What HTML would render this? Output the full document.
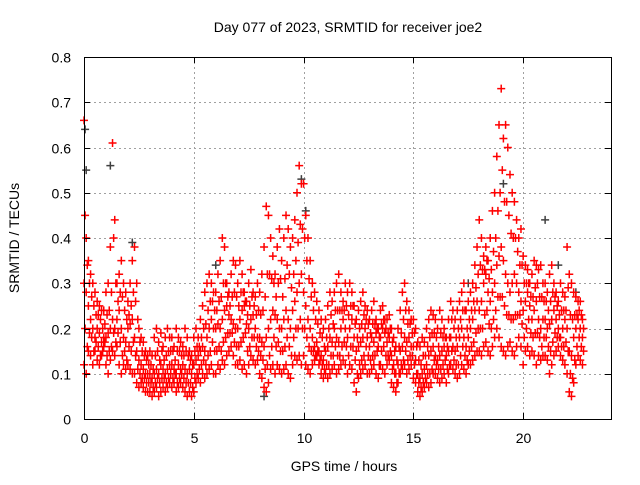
<!DOCTYPE html>
<html><head><meta charset="utf-8"><style>
body{margin:0;background:#fff}
svg text{font-family:"Liberation Sans",sans-serif;font-size:14px;fill:#000}
</style></head><body>
<svg id="chart" width="640" height="480" viewBox="0 0 640 480">
<rect width="640" height="480" fill="#fff"/>
<g id="grid"></g>
<g id="pts"></g>
<rect x="84.5" y="57.5" width="527" height="362" fill="none" stroke="#000" stroke-width="1"/>
<g id="ticks"></g>
<text x="348" y="32" text-anchor="middle">Day 077 of 2023, SRMTID for receiver joe2</text>
<text x="344" y="471" text-anchor="middle">GPS time / hours</text>
<text transform="translate(19,238) rotate(-90)" text-anchor="middle">SRMTID / TECUs</text>
</svg>
<script>
const xTicks=[0,5,10,15,20];
const yTicks=[0,0.1,0.2,0.3,0.4,0.5,0.6,0.7,0.8];
const yTickLabels=["0","0.1","0.2","0.3","0.4","0.5","0.6","0.7","0.8"];
const tStart=0, tStep=0.1, tHalf=0.05;
const lo=[.12,.10,.15,.14,.12,.15,.13,.12,.14,.16, .12,.10,.13,.15,.14,.16,.12,.10,.12,.11, .12,.11,.10,.10,.08,.07,.08,.07,.06,.06, .06,.05,.06,.07,.05,.06,.07,.06,.07,.08, .07,.08,.06,.07,.08,.07,.06,.05,.06,.05, .06,.08,.09,.08,.10,.09,.10,.11,.12,.10, .10,.12,.11,.13,.12,.14,.15,.16,.14,.12, .12,.13,.11,.12,.10,.12,.14,.13,.12,.13, .10,.09,.07,.06,.08,.11,.12,.10,.12,.11, .10,.11,.12,.10,.09,.12,.14,.13,.14,.12, .14,.12,.11,.10,.12,.13,.14,.12,.10,.09, .10,.09,.10,.11,.12,.10,.11,.12,.13,.12, .10,.12,.11,.08,.06,.09,.10,.11,.12,.10, .10,.11,.12,.10,.09,.12,.11,.10,.12,.13, .08,.07,.06,.08,.10,.11,.12,.10,.11,.12, .09,.08,.06,.05,.06,.07,.08,.07,.08,.10, .10,.09,.08,.09,.10,.08,.10,.12,.11,.10, .09,.10,.12,.11,.10,.12,.12,.13,.14,.15, .15,.14,.16,.17,.15,.14,.16,.18,.20,.18, .16,.15,.14,.16,.17,.15,.14,.16,.18,.16, .12,.15,.16,.14,.15,.14,.12,.14,.13,.14, .14,.13,.10,.12,.14,.15,.16,.14,.13,.12, .10,.06,.05,.08,.12,.14,.13,.12];
const q1=[.20,.16,.19,.18,.15,.17,.16,.14,.15,.17, .14,.15,.16,.19,.17,.19,.17,.14,.15,.13, .16,.15,.17,.14,.11,.10,.09,.09,.08,.08, .08,.07,.08,.09,.08,.09,.09,.08,.09,.10, .09,.10,.08,.09,.10,.09,.08,.08,.08,.07, .09,.10,.11,.12,.13,.12,.14,.15,.17,.15, .15,.16,.15,.17,.18,.19,.19,.19,.17,.16, .16,.17,.18,.19,.15,.16,.18,.18,.16,.15, .14,.13,.11,.12,.14,.16,.18,.16,.17,.15, .15,.16,.18,.16,.14,.18,.20,.20,.22,.20, .20,.18,.16,.15,.15,.14,.15,.13,.12,.11, .12,.12,.14,.14,.16,.14,.14,.16,.17,.16, .14,.16,.16,.13,.10,.12,.13,.14,.16,.14, .13,.14,.14,.15,.12,.15,.16,.14,.14,.15, .11,.10,.08,.10,.12,.13,.15,.13,.14,.14, .12,.10,.08,.07,.08,.09,.10,.10,.11,.13, .12,.11,.11,.12,.13,.11,.12,.15,.13,.12, .12,.14,.16,.14,.13,.15,.16,.17,.19,.20, .20,.20,.23,.24,.21,.20,.22,.24,.27,.27, .27,.25,.23,.23,.22,.22,.23,.23,.23,.21, .18,.20,.22,.19,.18,.19,.19,.18,.16,.18, .18,.16,.15,.17,.19,.18,.18,.16,.16,.17, .15,.10,.09,.13,.16,.18,.16,.15];
const mid=[.30,.28,.25,.22,.20,.18,.20,.19,.17,.18, .18,.19,.20,.22,.20,.22,.24,.20,.18,.17, .20,.21,.22,.18,.15,.13,.12,.11,.10,.10, .10,.09,.10,.11,.10,.12,.11,.10,.11,.12, .12,.11,.10,.12,.11,.12,.11,.10,.11,.10, .12,.13,.14,.15,.16,.15,.18,.20,.22,.20, .20,.21,.20,.22,.24,.25,.23,.22,.21,.20, .20,.22,.24,.25,.21,.20,.22,.23,.20,.18, .18,.17,.16,.18,.20,.22,.24,.23,.22,.20, .20,.22,.24,.22,.20,.24,.26,.28,.30,.32, .28,.25,.22,.20,.18,.16,.17,.15,.14,.13, .15,.16,.18,.17,.20,.18,.17,.20,.22,.20, .18,.20,.22,.18,.15,.16,.17,.18,.20,.18, .16,.18,.17,.19,.16,.18,.20,.19,.17,.18, .14,.12,.10,.12,.15,.16,.18,.17,.18,.16, .16,.13,.10,.09,.10,.11,.12,.14,.15,.16, .14,.13,.14,.15,.16,.14,.15,.18,.16,.15, .16,.18,.20,.18,.16,.18,.20,.22,.24,.26, .24,.26,.30,.32,.28,.26,.28,.30,.34,.36, .38,.35,.32,.30,.28,.30,.32,.30,.28,.26, .24,.26,.28,.25,.22,.24,.26,.22,.20,.22, .22,.20,.21,.22,.24,.22,.20,.18,.20,.22, .20,.15,.14,.18,.20,.22,.20,.18];
const q3=[.45,.34,.30,.27,.25,.23,.23,.22,.20,.21, .23,.24,.28,.40,.30,.26,.28,.27,.24,.22, .23,.25,.28,.26,.22,.17,.15,.14,.13,.12, .12,.11,.14,.15,.13,.15,.13,.14,.15,.15, .15,.13,.15,.15,.14,.14,.15,.14,.13,.12, .15,.16,.16,.18,.20,.21,.24,.26,.26,.24, .24,.26,.27,.30,.30,.27,.25,.27,.28,.27, .25,.28,.28,.26,.23,.25,.27,.25,.23,.24, .23,.24,.27,.32,.32,.31,.30,.27,.30,.31, .27,.31,.34,.32,.29,.32,.35,.39,.43,.42, .40,.35,.31,.27,.24,.22,.21,.19,.18,.16, .18,.20,.23,.21,.24,.24,.24,.24,.24,.25, .23,.25,.25,.21,.18,.20,.21,.23,.22,.21, .19,.21,.21,.20,.18,.21,.22,.20,.19,.20, .17,.15,.13,.16,.19,.22,.24,.21,.21,.19, .19,.16,.13,.12,.14,.14,.16,.18,.19,.19, .18,.16,.19,.18,.18,.16,.18,.22,.20,.18, .20,.22,.24,.24,.20,.22,.24,.26,.29,.32, .34,.33,.33,.35,.31,.33,.37,.40,.46,.50, .55,.48,.48,.45,.41,.40,.40,.37,.34,.34, .30,.30,.30,.27,.27,.29,.30,.27,.27,.26, .26,.24,.26,.28,.27,.25,.23,.24,.24,.24, .29,.23,.22,.23,.23,.24,.23,.20];
const hi=[.66,.40,.35,.32,.30,.28,.26,.25,.24,.24, .28,.30,.38,.61,.44,.30,.32,.35,.30,.28, .26,.30,.35,.38,.30,.20,.18,.17,.15,.14, .15,.14,.18,.20,.17,.19,.16,.18,.20,.18, .18,.16,.20,.18,.17,.16,.20,.18,.15,.14, .18,.20,.18,.22,.25,.28,.30,.32,.30,.28, .28,.32,.35,.40,.38,.30,.28,.32,.35,.34, .30,.35,.32,.28,.26,.30,.33,.28,.27,.30, .28,.32,.38,.47,.45,.40,.36,.32,.38,.42, .35,.40,.45,.42,.38,.40,.44,.50,.56,.52, .52,.45,.40,.35,.30,.28,.26,.24,.22,.20, .22,.25,.28,.26,.28,.30,.32,.28,.26,.30, .28,.30,.28,.25,.22,.24,.26,.28,.25,.24, .22,.24,.26,.22,.20,.24,.25,.22,.22,.23, .20,.18,.16,.20,.24,.28,.30,.26,.24,.22, .22,.20,.17,.16,.18,.17,.20,.22,.24,.23, .22,.20,.24,.22,.20,.18,.22,.26,.24,.22, .24,.26,.28,.30,.24,.26,.28,.30,.34,.38, .44,.40,.36,.38,.35,.40,.46,.50,.58,.65, .73,.62,.65,.60,.54,.50,.48,.44,.40,.42, .36,.34,.33,.30,.32,.35,.34,.33,.34,.30, .30,.28,.32,.34,.30,.28,.26,.30,.28,.27, .38,.32,.30,.28,.27,.26,.26,.22];
const grayT=[0.05,0.1,1.2,2.2,6.0,8.2,9.9,10.1,17.5,19.1,21.0,21.6,22.4];
const grayV=[0.64,0.55,0.56,0.39,0.34,0.05,0.53,0.46,0.30,0.52,0.44,0.34,0.28];

const X0=84,X1=611,Y0=419,Y1=57;
const xs=t=>X0+(t/24)*(X1-X0);
const ys=v=>Y0-(v/0.8)*(Y0-Y1);
const NS="http://www.w3.org/2000/svg";
const grid=document.getElementById('grid'),pts=document.getElementById('pts'),ticks=document.getElementById('ticks');
function ln(p,x1,y1,x2,y2,st,dash){const l=document.createElementNS(NS,'line');l.setAttribute('x1',x1);l.setAttribute('y1',y1);l.setAttribute('x2',x2);l.setAttribute('y2',y2);l.setAttribute('stroke',st);if(dash)l.setAttribute('stroke-dasharray',dash);p.appendChild(l);return l;}
xTicks.forEach(t=>{const x=Math.round(xs(t))+0.5;
 if(t>0){const g=ln(grid,x,Y1,x,Y0,'#a0a0a0','2,3');
 
 }
 ln(ticks,x,Y0,x,Y0-6,'#000');ln(ticks,x,Y1,x,Y1+6,'#000');
 const tx=document.createElementNS(NS,'text');tx.setAttribute('x',x);tx.setAttribute('y',443);tx.setAttribute('text-anchor','middle');tx.textContent=t;
 
 
 ticks.appendChild(tx);});
yTicks.forEach((v,i)=>{const y=Math.round(ys(v))+0.5;
 if(v>0&&v<0.8){const g=ln(grid,X0,y,X1,y,'#a0a0a0','2,3');
 
 }
 ln(ticks,X0,y,X0+6,y,'#000');ln(ticks,X1,y,X1-6,y,'#000');
 const tx=document.createElementNS(NS,'text');tx.setAttribute('x',71);tx.setAttribute('y',y+5);tx.setAttribute('text-anchor','end');tx.textContent=yTickLabels[i];
 
 
 ticks.appendChild(tx);});
function plus(t,v,col){const x=xs(t),y=ys(v);const p=document.createElementNS(NS,'path');
 p.setAttribute('d',`M${x-4} ${y}H${x+4}M${x} ${y-4}V${y+4}`);p.setAttribute('stroke',col);p.setAttribute('stroke-width','1.5');p.setAttribute('fill','none');
 
 
 pts.appendChild(p);}
grayT.forEach((t,i)=>plus(t,grayV[i],'#404040'));
[lo,mid,hi].forEach(arr=>arr.forEach((v,i)=>plus(tStart+i*tStep,v,'#ff0000')));
[q1,q3].forEach(arr=>arr.forEach((v,i)=>plus(tStart+i*tStep+tHalf,v,'#ff0000')));
</script>
</body></html>
